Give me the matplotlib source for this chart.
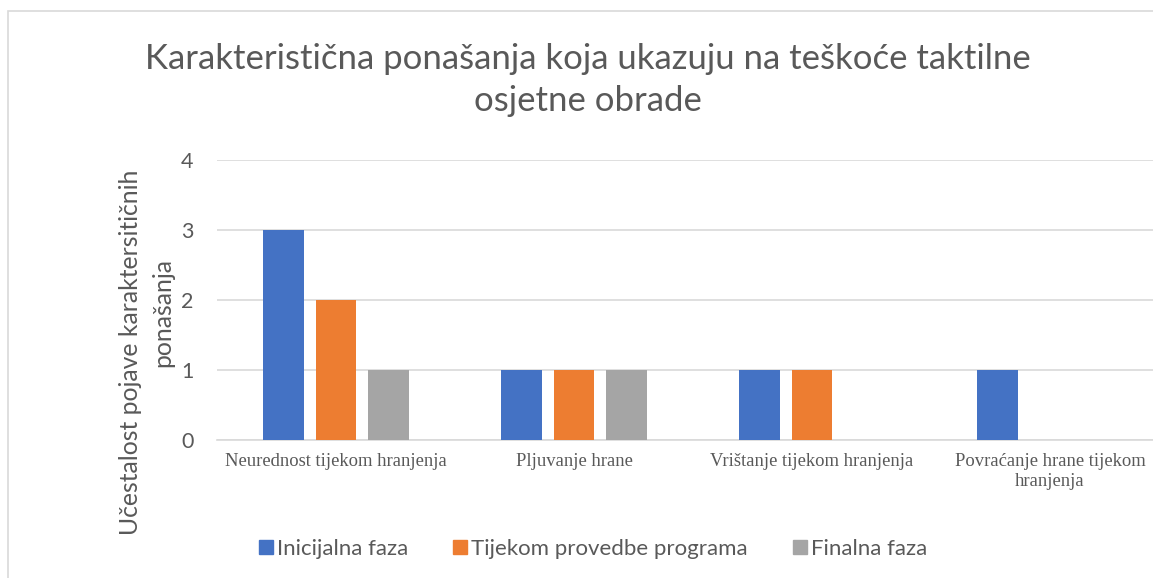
import matplotlib
matplotlib.use("Agg")
import matplotlib.pyplot as plt
import numpy as np
from matplotlib.patches import Rectangle
from matplotlib.lines import Line2D

categories = ["Neurednost tijekom hranjenja", "Pljuvanje hrane",
              "Vrištanje tijekom hranjenja", "Povraćanje hrane tijekom\nhranjenja"]
series_names = ["Inicijalna faza", "Tijekom provedbe programa", "Finalna faza"]
inicijalna = [3, 1, 1, 1]
tijekom = [2, 1, 1, 0]
finalna = [1, 1, 0, 0]
yticks = [0, 1, 2, 3, 4]

title = "Karakteristična ponašanja koja ukazuju na teškoće taktilne\nosjetne obrade"
ylabel_lines = ["Učestalost pojave karaktersitičnih", "ponašanja"]

colors = ["#4472C4", "#ED7D31", "#A5A5A5"]
W, H = 1153, 578
fig = plt.figure(figsize=(W / 100, H / 100), dpi=100)

# chart border (Excel chart area), right and bottom edges fall outside the picture
fig.add_artist(Rectangle((8 / W, -0.1), 1.2, 1.1 - 11 / H, transform=fig.transFigure,
                         fill=False, edgecolor="#D9D9D9", linewidth=1.2))

left, right = 217, 1169
top, bottom = 160, 440
ax = fig.add_axes([left / W, 1 - bottom / H, (right - left) / W, (bottom - top) / H])

x = np.arange(len(categories))
width = 0.172
offset = 0.221
for i, (vals, c) in enumerate(zip([inicijalna, tijekom, finalna], colors)):
    ax.bar(x + (i - 1) * offset, vals, width=width, color=c, zorder=3)

ax.set_xlim(-0.5, len(categories) - 0.5)
ax.set_ylim(0, 4)
ax.set_yticks(yticks)
ax.set_yticklabels([str(v) for v in yticks], fontfamily="Lato", fontsize=15.5, color="#595959")
ax.tick_params(axis="y", length=0, pad=17)
ax.set_xticks(x)
ax.set_xticklabels(categories, fontfamily="Liberation Serif", fontsize=13.4, color="#595959",
                   linespacing=1.3)
ax.tick_params(axis="x", length=0, pad=9)
ax.grid(axis="y", color="#D9D9D9", linewidth=1.2, zorder=0)
for s in ["top", "right", "left"]:
    ax.spines[s].set_visible(False)
ax.spines["bottom"].set_color("#D9D9D9")
ax.spines["bottom"].set_linewidth(1.2)

fig.text(588 / W, 1 - 80 / H, title, ha="center", va="center", fontfamily="Lato",
         fontsize=25, color="#595959", linespacing=1.42)

# y-axis title, two lines placed as in the reference
fig.text(131 / W, 1 - 352 / H, ylabel_lines[0], ha="center", va="center", rotation=90,
         fontfamily="Lato", fontsize=17.8, color="#595959")
fig.text(163 / W, 1 - 312 / H, ylabel_lines[1], ha="center", va="center", rotation=90,
         fontfamily="Lato", fontsize=17.8, color="#595959")

handles = [Line2D([0], [0], marker="s", linestyle="none", markersize=10.5,
                  markerfacecolor=c, markeredgecolor=c) for c in colors]
leg = fig.legend(handles, series_names, loc="center", bbox_to_anchor=(591 / W, 1 - 549 / H),
                 ncol=3, frameon=False, prop={"family": "Lato", "size": 16},
                 handletextpad=0.0, columnspacing=1.85, handlelength=1.0)
for t in leg.get_texts():
    t.set_color("#595959")

fig.savefig("out.png", dpi=100)
